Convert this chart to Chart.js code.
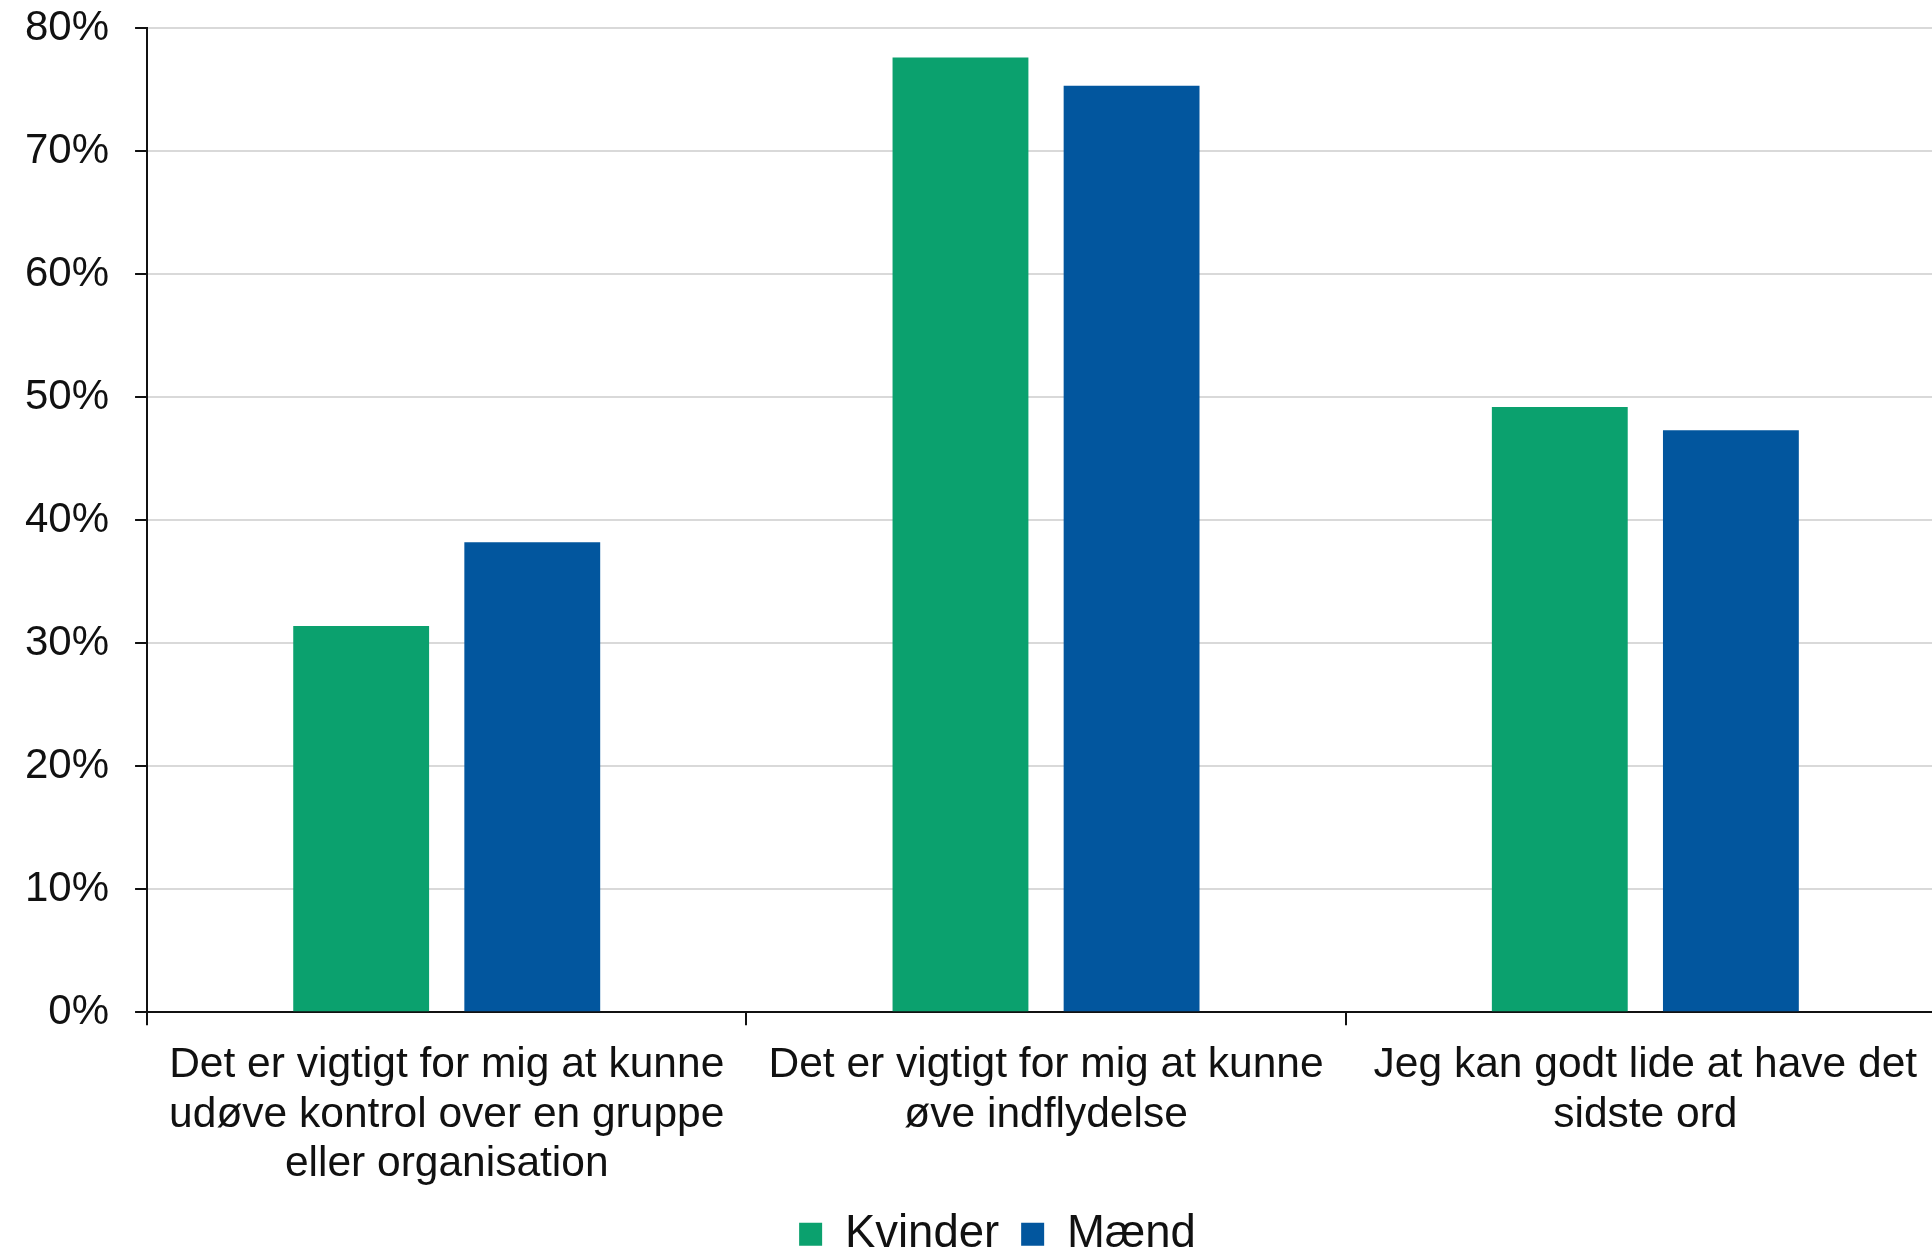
<!DOCTYPE html>
<html>
<head>
<meta charset="utf-8">
<script src="https://cdn.jsdelivr.net/npm/chart.js@4"></script>
<style>
  html, body { margin: 0; padding: 0; background: #fff; }
  #wrap { width: 1932px; height: 1251px; }
</style>
</head>
<body>
<div id="wrap"><canvas id="chart"></canvas></div>
<script>
// categories (multi-line labels)
var categories = [
  ["Det er vigtigt for mig at kunne", "udøve kontrol over en gruppe", "eller organisation"],
  ["Det er vigtigt for mig at kunne", "øve indflydelse"],
  ["Jeg kan godt lide at have det", "sidste ord"]
];

// series values, in percent
var kvinder = [31.4, 77.6, 49.2];
var maend = [38.2, 75.3, 47.3];

// y axis
var yMin = 0;
var yMax = 80;
var yStep = 10;

var font = "'Liberation Sans', Arial, sans-serif";

// the original plot runs a little past the right edge and its legend sits a bit right of centre
var nudge = {
  id: "nudge",
  afterLayout: function(chart) {
    var x = chart.scales.x;
    x.right += 13;
    x.width += 13;
    x.configure();
    var lg = chart.legend;
    if (lg) {
      lg.left += 32;
      lg.right += 32;
    }
  }
};

var ctx = document.getElementById("chart");

var chart = new Chart(ctx, {
  type: "bar",
  data: {
    labels: categories,
    datasets: [
      {
        label: "Kvinder",
        data: kvinder,
        backgroundColor: "#0BA16E",
        borderWidth: 0,
        categoryPercentage: 0.571,
        barPercentage: 0.794
      },
      {
        label: "Mænd",
        data: maend,
        backgroundColor: "#02569E",
        borderWidth: 0,
        categoryPercentage: 0.571,
        barPercentage: 0.794
      }
    ]
  },
  plugins: [nudge],
  options: {
    responsive: true,
    maintainAspectRatio: false,
    animation: false,
    layout: {
      padding: { top: 0, right: 0, bottom: -16, left: -1 }
    },
    plugins: {
      title: { display: false },
      tooltip: { enabled: false },
      legend: {
        display: true,
        position: "bottom",
        labels: {
          color: "#111",
          font: { family: font, size: 45.5 },
          boxWidth: 23,
          boxHeight: 23,
          padding: 22
        }
      }
    },
    scales: {
      x: {
        border: { display: true, color: "#111", width: 2 },
        grid: {
          display: true,
          offset: true,
          drawOnChartArea: false,
          drawTicks: true,
          tickLength: 13,
          color: "#111",
          lineWidth: 2
        },
        ticks: {
          color: "#111",
          font: { family: font, size: 42.5, lineHeight: 1.17 },
          padding: 15,
          maxRotation: 0,
          autoSkip: false
        },
        afterFit: function(scale) { scale.height -= 15; }
      },
      y: {
        min: yMin,
        max: yMax,
        border: { display: true, color: "#111", width: 2 },
        grid: {
          color: "#D9D9D9",
          lineWidth: 2,
          tickColor: "#111",
          tickLength: 12
        },
        ticks: {
          stepSize: yStep,
          color: "#111",
          font: { family: font, size: 42, lineHeight: 0.095 },
          padding: 26,
          callback: function(v) { return v + "%"; }
        }
      }
    }
  }
});
</script>
</body>
</html>
